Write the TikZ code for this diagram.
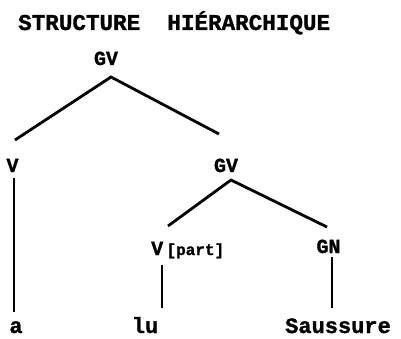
\documentclass[tikz,border=0pt]{standalone}
\usepackage{fontspec}
\setmainfont{Liberation Mono}[BoldFeatures={FakeBold=1.2}]
\begin{document}
\begin{tikzpicture}[x=1pt,y=-1pt,
  lbl/.style={inner sep=0pt,anchor=base,font=\bfseries\fontsize{20}{20}\selectfont},
  word/.style={inner sep=0pt,anchor=base,font=\bfseries\fontsize{22}{22}\selectfont},
  branch/.style={line width=2.8pt,line cap=butt}]
\useasboundingbox (0,0) rectangle (401,339);
% heading
\node[inner sep=0pt,anchor=base west,font=\bfseries\fontsize{22.6}{22.6}\selectfont] (title) at (18,30) {STRUCTURE~~HIÉRARCHIQUE};
% tree labels
\node[lbl] (gvtop) at (106,65) {GV};
\node[lbl] (vleft) at (12.5,172) {V};
\node[lbl] (gvmid) at (226,172) {GV};
\node[lbl,anchor=base west] (vpart) at (151,255) {V\,{\fontsize{16}{16}\selectfont[part]}};
\node[lbl] (gn) at (328.5,253) {GN};
% words
\node[word] (wa) at (16,333) {a};
\node[word] (wlu) at (145,333) {lu};
\node[word] (wsau) at (338,333) {Saussure};
% branches
\draw[branch] ([shift={(2.5,-32)}]vleft.base) -- ([shift={(5,12)}]gvtop.base) -- ([shift={(-7,-38)}]gvmid.base);
\draw[branch] ([shift={(17,-29)}]vpart.base west) -- ([shift={(5,8)}]gvmid.base) -- ([shift={(-1.5,-26)}]gn.base);
\draw[branch] ([shift={(1.5,6)}]vleft.base) -- ([shift={(-2,-21)}]wa.base);
\draw[branch] ([shift={(11,10)}]vpart.base west) -- ([shift={(17,-25)}]wlu.base);
\draw[branch] ([shift={(3.5,4)}]gn.base) -- ([shift={(-6,-25)}]wsau.base);
\end{tikzpicture}
\end{document}
